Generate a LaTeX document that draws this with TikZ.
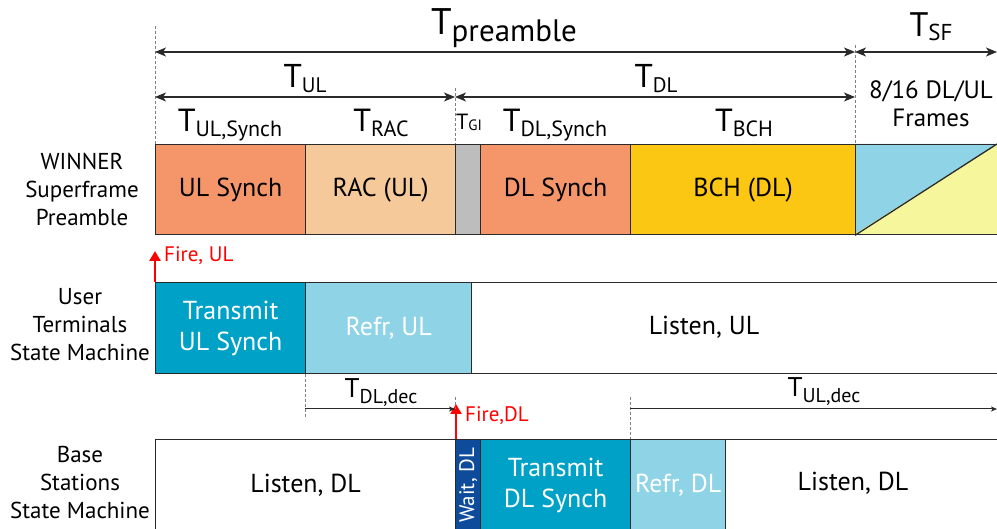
\documentclass[tikz,border=0pt]{standalone}
\usepackage{fontspec}
\setmainfont{PT Sans}
\usetikzlibrary{arrows.meta}

\definecolor{ulorange}{HTML}{F4966A}
\definecolor{racpeach}{HTML}{F6C99B}
\definecolor{gigray}{HTML}{BDBDBD}
\definecolor{bchyellow}{HTML}{FCC713}
\definecolor{lightblue}{HTML}{8ED3E6}
\definecolor{paleyellow}{HTML}{F6F79C}
\definecolor{txblue}{HTML}{00A1C7}
\definecolor{waitblue}{HTML}{0E4C9B}
\definecolor{firered}{HTML}{FF0000}
\definecolor{edge}{HTML}{2A2A2A}

\newcommand{\fsz}[1]{\fontsize{#1}{#1}\selectfont}
% T with a lowered, smaller subscript
\newcommand{\Tsym}[4]{{\fsz{#1}T\raisebox{-#4pt}{\fsz{#2}#3}}}

\begin{document}
\begin{tikzpicture}[x=1pt,y=-1pt,
  box/.style={draw=edge, line width=1.3pt, inner sep=0pt, anchor=north west},
  boxtext/.style={font=\fsz{26}, align=center, inner sep=0pt},
  rowlab/.style={font=\fsz{23}, align=center, inner sep=0pt},
  tlab/.style={inner sep=0pt, anchor=base},
  dimline/.style={line width=1.3pt, draw=edge},
  bigtips/.style={{Stealth[length=11pt,width=9pt,inset=3pt]}-{Stealth[length=11pt,width=9pt,inset=3pt]}},
  smalltip/.style={-{Stealth[length=6pt,width=5pt,inset=1.5pt]}},
  guide/.style={draw=gray, densely dashed, line width=0.8pt},
  fire/.style={draw=firered, line width=2.6pt, -{Triangle[length=10pt,width=11pt]}},
  firetext/.style={text=firered, font=\fsz{21}, anchor=west, inner sep=0pt}]

\useasboundingbox (0,0) rectangle (997,529);
\fill[white] (0,0) rectangle (997,529);

% ---------- preamble row ----------
\fill[lightblue] (855,144) -- (1000,144) -- (855,234) -- cycle;
\fill[paleyellow] (855,234) -- (997,144) -- (1000,144) -- (1000,234) -- cycle;
\node[box, fill=ulorange,  minimum width=150pt, minimum height=90pt] (ulsync) at (155,144) {};
\node[box, fill=racpeach,  minimum width=150pt, minimum height=90pt] (rac)    at (305,144) {};
\node[box, fill=gigray,    minimum width=25pt,  minimum height=90pt] (gi)     at (455,144) {};
\node[box, fill=ulorange,  minimum width=150pt, minimum height=90pt] (dlsync) at (480,144) {};
\node[box, fill=bchyellow, minimum width=225pt, minimum height=90pt] (bch)    at (630,144) {};
\node[box, minimum width=160pt, minimum height=90pt] (sf) at (855,144) {};
\coordinate (sfcorner) at (997,144);
\draw[draw=edge, line width=1.3pt] (sf.south west) -- (sfcorner);

\node[boxtext] (tulsync) at (ulsync.center) {UL Synch};
\node[boxtext] (trac)    at (rac.center)    {RAC (UL)};
\node[boxtext] (tdlsync) at (dlsync.center) {DL Synch};
\node[boxtext] (tbch)    at (bch.center)    {BCH (DL)};

% ---------- user terminal row ----------
\node[box, fill=txblue,    minimum width=150pt, minimum height=91pt] (uttx)     at (155,282) {};
\node[box, fill=lightblue, minimum width=166pt, minimum height=91pt] (utrefr)   at (305,282) {};
\node[box, fill=white,     minimum width=540pt, minimum height=91pt] (utlisten) at (471,282) {};
\node[boxtext, text=white] (tuttx)   at (uttx.center)   {Transmit\\[5pt]UL Synch};
\node[boxtext, text=white] (tutrefr) at (utrefr.center) {Refr, UL};
\node[boxtext] (tutlisten) at (704,327) {Listen, UL};

% ---------- base station row ----------
\node[box, fill=white,     minimum width=300pt, minimum height=91pt] (bslisten)  at (155,439) {};
\node[box, fill=waitblue,  minimum width=25pt,  minimum height=91pt] (bswait)    at (455,439) {};
\node[box, fill=txblue,    minimum width=150pt, minimum height=91pt] (bstx)      at (480,439) {};
\node[box, fill=lightblue, minimum width=95pt,  minimum height=91pt] (bsrefr)    at (630,439) {};
\node[box, fill=white,     minimum width=290pt, minimum height=91pt] (bslisten2) at (725,439) {};
\node[boxtext] (tbslisten) at (bslisten.center) {Listen, DL};
\node[boxtext, text=white, rotate=90, font=\fsz{21}] (tbswait) at (bswait.center) {Wait, DL};
\node[boxtext, text=white] (tbstx)   at (bstx.center)   {Transmit\\[5pt]DL Synch};
\node[boxtext, text=white] (tbsrefr) at (bsrefr.center) {Refr, DL};
\node[boxtext] (tbslisten2) at (853,483) {Listen, DL};

% ---------- row captions ----------
\node[rowlab] (capsf) at (82,189) {WINNER\\[5pt]Superframe\\[5pt]Preamble};
\node[rowlab] (caput) at (80,325) {User\\[5pt]Terminals\\[5pt]State Machine};
\node[rowlab] (capbs) at (80,482) {Base\\[5pt]Stations\\[5pt]State Machine};

% ---------- guides and timing dimensions above ----------
\coordinate (g1top) at (155,26);
\coordinate (g2top) at (455,88);
\coordinate (g3top) at (855,45);
\draw[guide] (g1top) -- (ulsync.north west);
\draw[guide] (g2top) -- (gi.north west);
\draw[guide] (g3top) -- (sf.north west);

\coordinate (pA) at (155,52);
\coordinate (pB) at (855,52);
\coordinate (pC) at (997,52);
\draw[dimline, bigtips] (pA) -- (pB);
\draw[dimline, bigtips] (pB) -- (pC);
\node[tlab] (lpre) at (504,35) {\Tsym{37}{31}{preamble}{7}};
\node[tlab] (lsf)  at (931,37) {\Tsym{34}{23}{SF}{4}};

\coordinate (uA) at (155,97);
\coordinate (uB) at (455,97);
\coordinate (uC) at (855,97);
\draw[dimline, bigtips] (uA) -- (uB);
\draw[dimline, bigtips] (uB) -- (uC);
\node[tlab] (lul) at (305,88) {\Tsym{33}{21}{UL}{5}};
\node[tlab] (ldl) at (656,88) {\Tsym{33}{21}{DL}{5}};

\node[tlab] (lulsync) at (230,132) {\Tsym{32}{22}{UL,Synch}{5}};
\node[tlab] (lrac)    at (381,132) {\Tsym{32}{22}{RAC}{5}};
\node[tlab] (lgi)     at (469,130) {\Tsym{22}{15}{GI}{1}};
\node[tlab] (ldlsync) at (555,132) {\Tsym{32}{22}{DL,Synch}{5}};
\node[tlab] (lbch)    at (744,132) {\Tsym{32}{22}{BCH}{5}};
\node[font=\fsz{25}, align=center, inner sep=0pt] (lframes) at (931,104) {8/16 DL/UL\\[3pt]Frames};

% ---------- fire events ----------
\coordinate (fireul) at (155,251);
\draw[fire] (uttx.north west) -- (fireul);
\node[firetext] (lfireul) at (164,256) {Fire, UL};

\coordinate (firedl) at (456,404);
\coordinate (fdlbase) at (456,439);
\draw[fire] (fdlbase) -- (firedl);
\node[firetext] (lfiredl) at (465,416) {Fire,DL};

% ---------- decoding delays ----------
\coordinate (d1bot) at (305,417);
\coordinate (d1a) at (305,409);
\coordinate (d1b) at (455,409);
\coordinate (d1top) at (455,397);
\draw[guide] (utrefr.south west) -- (d1bot);
\draw[guide] (d1top) -- (d1b);
\draw[dimline, line width=1pt, smalltip] (d1a) -- (d1b);
\node[tlab] (ldldec) at (381,398) {\Tsym{27}{20}{DL,dec}{6}};

\coordinate (d2top) at (630,397);
\coordinate (d2a) at (630,409);
\coordinate (d2b) at (997,409);
\draw[guide] (d2top) -- (bsrefr.north west);
\draw[dimline, line width=1pt, smalltip] (d2a) -- (d2b);
\node[tlab] (luldec) at (824,397) {\Tsym{27}{20}{UL,dec}{6}};

\end{tikzpicture}
\end{document}
